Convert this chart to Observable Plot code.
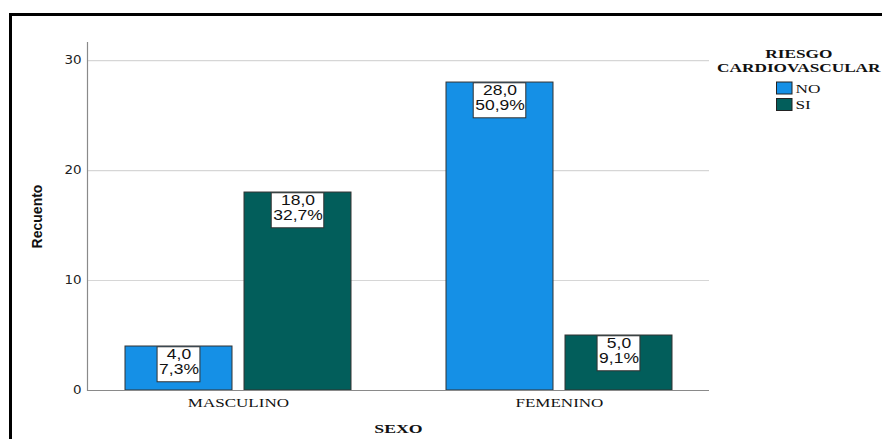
<!DOCTYPE html>
<html lang="es">
<head>
<meta charset="utf-8">
<script src="https://cdn.jsdelivr.net/npm/d3@7"></script>
<script src="https://cdn.jsdelivr.net/npm/@observablehq/plot@0.6"></script>
<style>
  html, body { margin: 0; padding: 0; background: #fff; overflow: hidden; }
  #chart { position: relative; width: 882px; height: 439px; }
  #marco {
    position: absolute; left: 9px; top: 13px; width: 1000px; height: 1000px;
    border-top: 3px solid #000; border-left: 3px solid #000; pointer-events: none;
  }
  #chart svg { position: absolute; left: 0; top: 0; }
  g[aria-label^="y-axis"] text { font-family: "DejaVu Sans", sans-serif; font-size: 12px; fill: #222; }
  g[aria-label^="x-axis"] text { font-family: "Liberation Serif", serif; font-size: 12px; fill: #111; }
</style>
</head>
<body>
<div id="chart"><div id="marco"></div></div>
<script>
// Recuento por sexo y riesgo cardiovascular
const sexo = ["MASCULINO", "FEMENINO"];
const riesgo = ["NO", "SI"];
const recuentoNO = [4, 28];
const recuentoSI = [18, 5];
const yTicks = [0, 10, 20, 30];
const colores = ["#1590e6", "#025e5b"];

const filas = [];
sexo.forEach((s, i) => {
  filas.push({sexo: s, riesgo: "NO", n: recuentoNO[i]});
  filas.push({sexo: s, riesgo: "SI", n: recuentoSI[i]});
});
const total = d3.sum(filas, d => d.n);
const coma = (v) => v.toFixed(1).replace(".", ",");
filas.forEach(d => { d.etiqueta = `${coma(d.n)}\n${coma(d.n / total * 100)}%`; });

const filasNO = filas.filter(d => d.riesgo === "NO");
const filasSI = filas.filter(d => d.riesgo === "SI");

const barra = {x: "sexo", y: "n", fill: "riesgo", stroke: "#333", strokeWidth: 1};
const texto = {
  x: "sexo", y: "n", text: "etiqueta", lineAnchor: "top", dy: 2, lineHeight: 1.07,
  fontFamily: "Liberation Sans", fontSize: 14, fill: "#111", ariaDescription: "valores"
};

const plot = Plot.plot({
  width: 882,
  height: 439,
  marginLeft: 87,
  marginRight: 173,
  marginTop: 42,
  marginBottom: 49,
  style: {fontFamily: "Liberation Sans", fontSize: "12px", background: "transparent", overflow: "visible"},
  x: {domain: sexo, paddingInner: 0.297, paddingOuter: 0.116, tickSize: 0, tickPadding: 8, label: null},
  y: {domain: [0, 31.64], ticks: yTicks, tickSize: 0, tickPadding: 6, label: null},
  color: {domain: riesgo, range: colores},
  marks: [
    Plot.ruleY(yTicks.filter(t => t > 0), {stroke: "#d6d6d6", strokeWidth: 1.2}),
    Plot.barY(filasNO, {...barra, insetRight: 119}),
    Plot.barY(filasSI, {...barra, insetLeft: 119}),
    Plot.ruleY([0], {stroke: "#8a8a8a", strokeWidth: 1.2}),
    Plot.frame({anchor: "left", stroke: "#8a8a8a", strokeWidth: 1.2}),
    Plot.text(filasNO, {...texto, dx: -59.5}),
    Plot.text(filasSI, {...texto, dx: 59.5}),
    Plot.text(["SEXO"], {
      frameAnchor: "bottom", dy: 34, lineAnchor: "top", textAnchor: "middle",
      fontFamily: "Liberation Serif", fontWeight: "bold", fontSize: 12.5, fill: "#111",
      ariaDescription: "titulo-x"
    }),
    Plot.text(["Recuento"], {
      frameAnchor: "left", rotate: -90, dx: -49.5, textAnchor: "middle", lineAnchor: "middle",
      fontFamily: "Liberation Sans", fontWeight: "bold", fontSize: 14, fill: "#111"
    })
  ]
});

document.getElementById("chart").appendChild(plot);
const svg = d3.select(plot);

// Horizontal widening of text glyphs around their anchor point
function ensanchar(nodos, s) {
  nodos.forEach(t => {
    const b = t.getBBox();
    const a = getComputedStyle(t).textAnchor;
    const ax = a === "middle" ? b.x + b.width / 2 : a === "end" ? b.x + b.width : b.x;
    const tr = t.getAttribute("transform") || "";
    t.setAttribute("transform", `${tr} translate(${ax},0) scale(${s},1) translate(${-ax},0)`);
  });
}
ensanchar(plot.querySelectorAll('g[aria-label^="y-axis"] text'), 1.12);
ensanchar(plot.querySelectorAll('g[aria-label^="x-axis"] text'), 1.42);
ensanchar(plot.querySelectorAll('g[aria-description="titulo-x"] text'), 1.42);
ensanchar(plot.querySelectorAll('g[aria-description="valores"] text'), 1.25);

// White boxes behind the value labels
const origen = plot.getBoundingClientRect();
plot.querySelectorAll('g[aria-description="valores"]').forEach(g => {
  const cajas = document.createElementNS("http://www.w3.org/2000/svg", "g");
  g.parentNode.insertBefore(cajas, g);
  g.querySelectorAll("text").forEach(t => {
    const r = t.getBoundingClientRect();
    const c = document.createElementNS("http://www.w3.org/2000/svg", "rect");
    c.setAttribute("x", r.left - origen.left - 2);
    c.setAttribute("y", r.top - origen.top);
    c.setAttribute("width", r.width + 3);
    c.setAttribute("height", r.height + 5);
    c.setAttribute("fill", "#fff");
    c.setAttribute("stroke", "#333");
    c.setAttribute("stroke-width", 1);
    cajas.appendChild(c);
  });
});

// Legend built from the color scale
const escala = plot.scale("color");
const ley = svg.append("g").attr("font-family", "Liberation Serif").attr("fill", "#111");
const titulo = ley.append("text").attr("text-anchor", "middle").attr("font-weight", "bold").attr("font-size", 12.5);
titulo.append("tspan").attr("x", 799).attr("y", 58.5).text("RIESGO");
titulo.append("tspan").attr("x", 799).attr("y", 72).text("CARDIOVASCULAR");
escala.domain.forEach((k, i) => {
  const y0 = 82 + i * 16.5;
  ley.append("rect").attr("x", 776.5).attr("y", y0).attr("width", 15.5).attr("height", 12)
    .attr("fill", escala.range[i]).attr("stroke", "#222").attr("stroke-width", 1);
  ley.append("text").attr("x", 795.5).attr("y", y0 + 10.8).attr("text-anchor", "start")
    .attr("font-size", 12.5).text(k);
});
ensanchar(ley.node().querySelectorAll("text"), 1.38);
</script>
</body>
</html>
